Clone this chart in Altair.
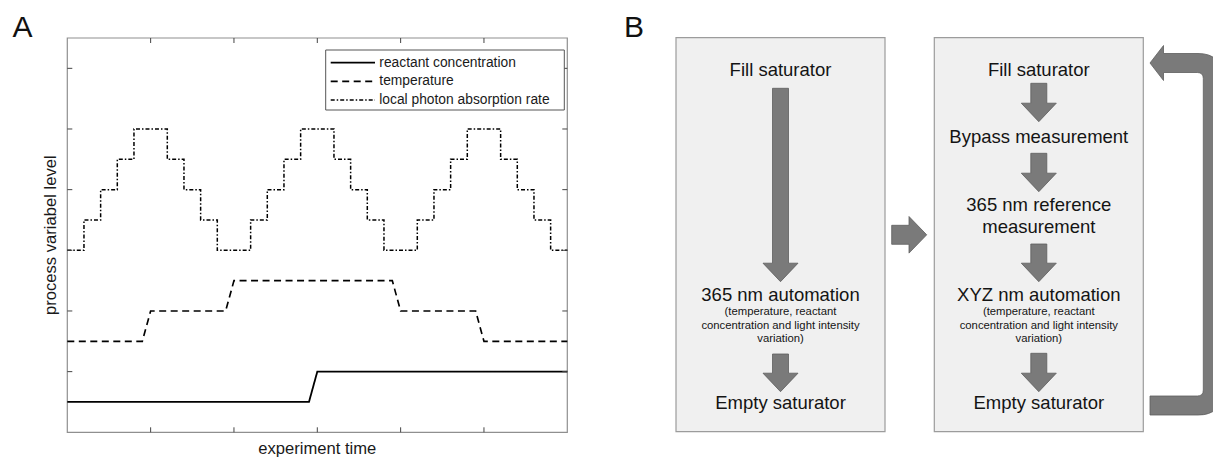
import altair as alt
import pandas as pd

# ---------------- Panel A: values ----------------
SERIES = ["reactant concentration", "temperature", "local photon absorption rate"]
reactant_time = [0.0, 2.9, 3.0, 6.0]
reactant_level = [0.5, 0.5, 1.0, 1.0]
temperature_time = [0.0, 0.9, 1.0, 1.9, 2.0, 3.9, 4.0, 4.9, 5.0, 6.0]
temperature_level = [1.5, 1.5, 2.0, 2.0, 2.5, 2.5, 2.0, 2.0, 1.5, 1.5]
photon_time = [0.0, 0.2, 0.4, 0.6, 0.8, 1.2, 1.4, 1.6, 1.8,
               2.2, 2.4, 2.6, 2.8, 3.2, 3.4, 3.6, 3.8,
               4.2, 4.4, 4.6, 4.8, 5.2, 5.4, 5.6, 5.8, 6.0]
photon_level = [3.0, 3.5, 4.0, 4.5, 5.0, 4.5, 4.0, 3.5, 3.0,
                3.5, 4.0, 4.5, 5.0, 4.5, 4.0, 3.5, 3.0,
                3.5, 4.0, 4.5, 5.0, 4.5, 4.0, 3.5, 3.0, 3.0]
x_ticks = [1, 2, 3, 4, 5]
y_ticks = [1, 2, 3, 4, 5, 6]
X_DOMAIN = [0.0, 6.0]
Y_DOMAIN = [0.0, 6.5]
X_TITLE = "experiment time"
Y_TITLE = "process variabel level"

# ---------------- Panel B: values ----------------
box1_labels = ["Fill saturator", "365 nm automation", "Empty saturator"]
box2_labels = ["Fill saturator", "Bypass measurement", "365 nm reference", "measurement",
               "XYZ nm automation", "Empty saturator"]
note_lines = ["(temperature, reactant", "concentration and light intensity", "variation)"]
panel_labels = ["A", "B"]

# ---------------- layout (pixels) ----------------
FONT = "Liberation Sans"
PA_L, PA_R, PA_T, PA_B = 67.3, 567.3, 38.0, 432.3
W, H = 1213, 458

def px_x(p):
    return X_DOMAIN[0] + (p - PA_L) / (PA_R - PA_L) * (X_DOMAIN[1] - X_DOMAIN[0])

def px_y(p):
    return Y_DOMAIN[0] + (PA_B - p) / (PA_B - PA_T) * (Y_DOMAIN[1] - Y_DOMAIN[0])

xsA = alt.Scale(domain=X_DOMAIN, range=[PA_L, PA_R], nice=False, zero=False)
ysA = alt.Scale(domain=Y_DOMAIN, range=[PA_B, PA_T], nice=False, zero=False)
DASH = alt.Scale(domain=SERIES, range=[[1, 0], [7, 4.5], [4, 2, 1.5, 2]])
SW = alt.Scale(domain=SERIES, range=[1.8, 1.5, 1.4])

rows = []
for name, ts, vs in [(SERIES[0], reactant_time, reactant_level),
                     (SERIES[1], temperature_time, temperature_level),
                     (SERIES[2], photon_time, photon_level)]:
    for i, (t, v) in enumerate(zip(ts, vs)):
        rows.append({"series": name, "t": t, "level": v, "idx": i})
df_lines = pd.DataFrame(rows)

def XA(f):
    return alt.X(f, scale=xsA, axis=None, title=None)

def YA(f):
    return alt.Y(f, scale=ysA, axis=None, title=None)

frame = alt.Chart(pd.DataFrame({"x0": [X_DOMAIN[0]], "x1": [X_DOMAIN[1]],
                                "y0": [Y_DOMAIN[0]], "y1": [Y_DOMAIN[1]]})).mark_rect(
    fillOpacity=0, stroke="#8f8f8f", strokeWidth=1.2
).encode(x=XA("x0:Q"), x2="x1:Q", y=YA("y0:Q"), y2="y1:Q")

df_xt = pd.DataFrame({"t": x_ticks})
df_yt = pd.DataFrame({"v": y_ticks})
TK = 5
tick_style = dict(color="#444444", strokeWidth=1)
xt_bottom = alt.Chart(df_xt).mark_rule(**tick_style).encode(
    x=XA("t:Q"), y=alt.value(PA_B), y2=alt.value(PA_B - TK))
xt_top = alt.Chart(df_xt).mark_rule(**tick_style).encode(
    x=XA("t:Q"), y=alt.value(PA_T), y2=alt.value(PA_T + TK))
yt_left = alt.Chart(df_yt).mark_rule(**tick_style).encode(
    y=YA("v:Q"), x=alt.value(PA_L), x2=alt.value(PA_L + TK))
yt_right = alt.Chart(df_yt).mark_rule(**tick_style).encode(
    y=YA("v:Q"), x=alt.value(PA_R), x2=alt.value(PA_R - TK))

line_enc = dict(
    x=XA("t:Q"), y=YA("level:Q"), order=alt.Order("idx:Q"),
    strokeDash=alt.StrokeDash("series:N", scale=DASH, legend=None),
    strokeWidth=alt.StrokeWidth("series:N", scale=SW, legend=None),
)
lines_linear = alt.Chart(df_lines).transform_filter(
    alt.FieldOneOfPredicate(field="series", oneOf=SERIES[:2])
).mark_line(color="black").encode(**line_enc)
lines_step = alt.Chart(df_lines).transform_filter(
    alt.FieldEqualPredicate(field="series", equal=SERIES[2])
).mark_line(color="black", interpolate="step-after").encode(**line_enc)

# legend (drawn inside the axes, like the original)
LG_L, LG_R, LG_T, LG_B = 325.7, 564.3, 50.0, 110.0
lg_rows_y = [62.7, 81.4, 100.1]
df_lg = pd.DataFrame({
    "series": SERIES,
    "y": [px_y(v) for v in lg_rows_y],
    "x0": [px_x(330.7)] * 3, "x1": [px_x(375.0)] * 3, "xt": [px_x(379.3)] * 3,
})
lg_box = alt.Chart(pd.DataFrame({"x0": [px_x(LG_L)], "x1": [px_x(LG_R)],
                                 "y0": [px_y(LG_B)], "y1": [px_y(LG_T)]})).mark_rect(
    fill="white", stroke="#555555", strokeWidth=1
).encode(x=XA("x0:Q"), x2="x1:Q", y=YA("y0:Q"), y2="y1:Q")
lg_sym = alt.Chart(df_lg).mark_rule(color="black").encode(
    x=XA("x0:Q"), x2="x1:Q", y=YA("y:Q"),
    strokeDash=alt.StrokeDash("series:N", scale=DASH, legend=None),
    strokeWidth=alt.StrokeWidth("series:N", scale=SW, legend=None),
)
lg_txt = alt.Chart(df_lg).mark_text(
    align="left", baseline="middle", font=FONT, fontSize=13.8, color="#1a1a1a"
).encode(x=XA("xt:Q"), y=YA("y:Q"), text="series:N")

x_title = alt.Chart(pd.DataFrame({"x": [(X_DOMAIN[0] + X_DOMAIN[1]) / 2], "y": [px_y(453.5)],
                                  "label": [X_TITLE]})).mark_text(
    align="center", baseline="alphabetic", font=FONT, fontSize=16.6, color="#1a1a1a"
).encode(x=XA("x:Q"), y=YA("y:Q"), text="label:N")
y_title = alt.Chart(pd.DataFrame({"x": [px_x(56.0)], "y": [(Y_DOMAIN[0] + Y_DOMAIN[1]) / 2],
                                  "label": [Y_TITLE]})).mark_text(
    align="center", baseline="alphabetic", angle=270, font=FONT, fontSize=16.6, color="#1a1a1a"
).encode(x=XA("x:Q"), y=YA("y:Q"), text="label:N")

panel_a = alt.layer(frame, lines_linear, lines_step, xt_bottom, xt_top, yt_left, yt_right,
                    lg_box, lg_sym, lg_txt, x_title, y_title)

# ---------------- Panel B (flow diagram, pixel layout) ----------------
xsB = alt.Scale(domain=[0, W], range=[0, W], nice=False, zero=False)
ysB = alt.Scale(domain=[0, H], range=[0, H], nice=False, zero=False)

def XB(f):
    return alt.X(f, scale=xsB, axis=None, title=None)

def YB(f):
    return alt.Y(f, scale=ysB, axis=None, title=None)

col_x = [780.5, 1038.8]
BOX_W, BOX_T, BOX_B = 209.0, 37.7, 431.7
df_box = pd.DataFrame({"x0": [c - BOX_W / 2 for c in col_x], "x1": [c + BOX_W / 2 for c in col_x],
                       "y0": [BOX_T] * 2, "y1": [BOX_B] * 2})
boxes = alt.Chart(df_box).mark_rect(fill="#f0f0f0", stroke="#9c9c9c", strokeWidth=1.2).encode(
    x=XB("x0:Q"), x2="x1:Q", y=YB("y0:Q"), y2="y1:Q")

MAIN, NOTE = 18.5, 11.3
box1_y = [70.0, 295.0, 403.3]
box2_y = [70.0, 137.3, 205.0, 226.7, 295.0, 402.7]
note_y = [312.3, 326.0, 339.3]
trows = []
for lab, y in zip(box1_labels, box1_y):
    trows.append({"label": lab, "x": col_x[0], "y": y, "fs": MAIN})
for lab, y in zip(box2_labels, box2_y):
    trows.append({"label": lab, "x": col_x[1], "y": y, "fs": MAIN})
for c in col_x:
    for lab, y in zip(note_lines, note_y):
        trows.append({"label": lab, "x": c, "y": y, "fs": NOTE})
texts = alt.Chart(pd.DataFrame(trows)).mark_text(
    align="center", baseline="middle", font=FONT, color="#141414"
).encode(x=XB("x:Q"), y=YB("y:Q"), text="label:N", size=alt.Size("fs:Q", scale=None))

def down_arrow(length, sw=8.0, hw=17.5, hl=18.5):
    b = length - hl
    return (f"M{-sw},0 L{sw},0 L{sw},{b} L{hw},{b} L0,{length} "
            f"L{-hw},{b} L{-sw},{b} Z")

def right_arrow(length=35.0, sw=9.5, hw=18.3, hl=17.7):
    b = length - hl
    return (f"M0,{-sw} L{b},{-sw} L{b},{-hw} L{length},0 L{b},{hw} "
            f"L{b},{sw} L0,{sw} Z")

def loop_arrow(span=342.5, x_in=53.3, x_out=72.0, t=9.5, hb=13.5, hh=17.5, R=24.0, r=6.0):
    yb_top, yb_bot = span - t, span + t
    return (f"M0,0 L{hb},{-hh} L{hb},{-t} L{x_out - R},{-t} Q{x_out},{-t} {x_out},{-t + R} "
            f"L{x_out},{yb_bot - R} Q{x_out},{yb_bot} {x_out - R},{yb_bot} L0,{yb_bot} "
            f"L0,{yb_top} L{x_in - r},{yb_top} Q{x_in},{yb_top} {x_in},{yb_top - r} "
            f"L{x_in},{t + r} Q{x_in},{t} {x_in - r},{t} L{hb},{t} L{hb},{hh} Z")

arrow_rows = [
    {"x": col_x[0], "y": 88.3, "path": down_arrow(193.4)},
    {"x": col_x[0], "y": 354.0, "path": down_arrow(37.7)},
    {"x": col_x[1], "y": 83.3, "path": down_arrow(38.4)},
    {"x": col_x[1], "y": 153.3, "path": down_arrow(38.4)},
    {"x": col_x[1], "y": 244.0, "path": down_arrow(37.7)},
    {"x": col_x[1], "y": 353.3, "path": down_arrow(38.4)},
    {"x": 891.7, "y": 234.8, "path": right_arrow()},
    {"x": 1150.0, "y": 63.0, "path": loop_arrow()},
]
arrows = alt.Chart(pd.DataFrame(arrow_rows)).mark_point(
    size=4, filled=True, fill="#7a7a7a", stroke="#5e5e5e", strokeWidth=0.8, opacity=1
).encode(x=XB("x:Q"), y=YB("y:Q"), shape=alt.Shape("path:N", scale=None))

df_pl = pd.DataFrame({"label": panel_labels, "x": [12.5, 624.0], "y": [36.7, 36.7]})
plabels = alt.Chart(df_pl).mark_text(
    align="left", baseline="alphabetic", font=FONT, fontSize=30, color="#111111"
).encode(x=XB("x:Q"), y=YB("y:Q"), text="label:N")

panel_b = alt.layer(boxes, arrows, texts, plabels)

chart = alt.layer(panel_a, panel_b).resolve_scale(
    x="independent", y="independent"
).properties(
    width=W, height=H, padding=0,
    autosize=alt.AutoSizeParams(type="none"),
    background="white",
).configure_view(stroke=None)

chart.save("out.html", embed_options={"renderer": "svg", "actions": False})
